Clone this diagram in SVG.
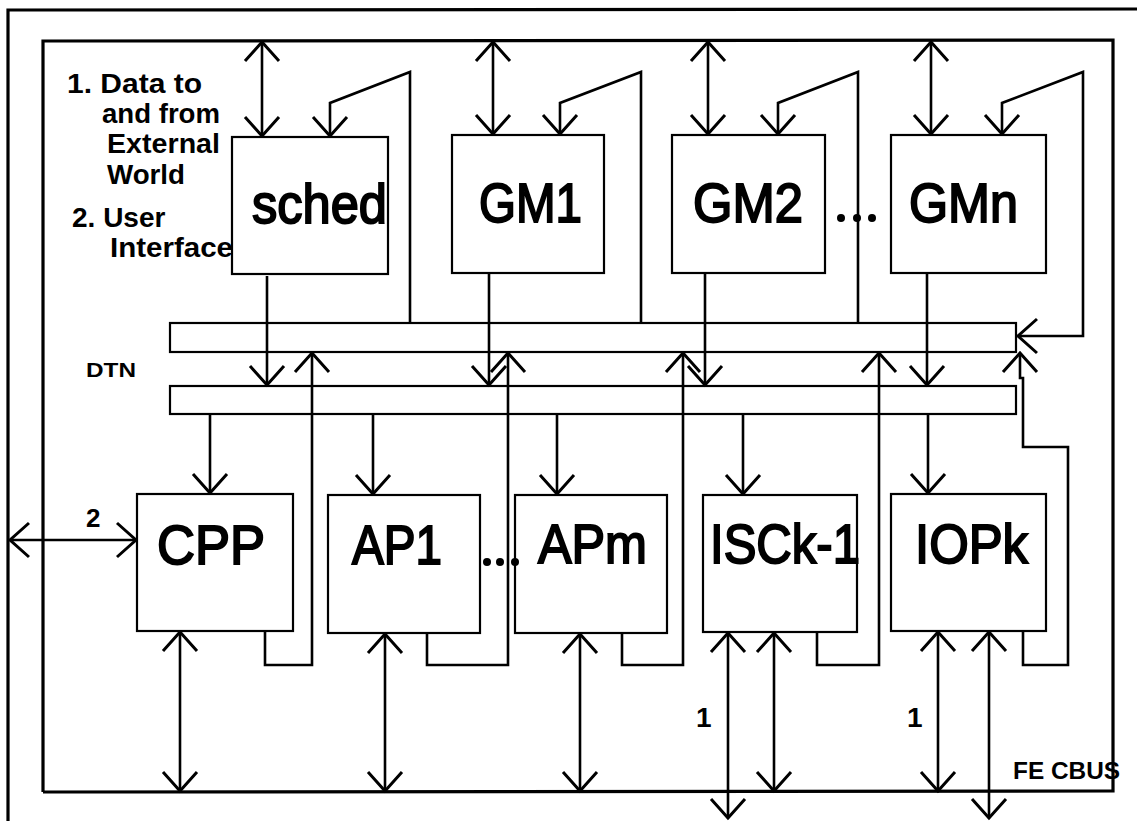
<svg xmlns="http://www.w3.org/2000/svg" width="1137" height="821" viewBox="0 0 1137 821">
<style>
.frame{fill:none;stroke:#000;stroke-width:3.2}
.box{fill:#fff;stroke:#000;stroke-width:2.2}
.bar{fill:none;stroke:#000;stroke-width:2.2}
.c{fill:none;stroke:#000;stroke-width:2.6;stroke-linejoin:miter}
.a{marker-end:url(#ah)}
.b{marker-start:url(#ah);marker-end:url(#ah)}
.big{font-family:"Liberation Sans",Arial,sans-serif;font-size:56px;fill:#000;stroke:#000;stroke-width:2}
.sm{font-family:"Liberation Sans",Arial,sans-serif;font-size:28px;font-weight:bold;fill:#000}
.dot{fill:#000}
</style>
<defs>
<marker id="ah" viewBox="-22 -20 24 40" refX="0" refY="0" markerWidth="24" markerHeight="40" markerUnits="userSpaceOnUse" orient="auto-start-reverse" overflow="visible">
<path d="M-19,-17 L0,0 L-19,17" fill="none" stroke="#000" stroke-width="3"/>
</marker>
</defs>
<rect width="1137" height="821" fill="#fff"/>
<g id="outer-frame">
<path class="frame" d="M8,821 L8,10 L1137,9"/>
</g>
<g id="fe-cbus">
<path class="frame" d="M43,792 L43,41 L1113,40 L1113,791 L43,792"/>
<text class="sm" x="1013" y="779" textLength="107" lengthAdjust="spacingAndGlyphs" style="font-size:24px">FE CBUS</text>
</g>
<g id="dtn">
<rect class="bar" x="170" y="323" width="846" height="29"/>
<rect class="bar" x="170" y="386" width="846" height="28"/>
<text class="sm" x="86" y="377" textLength="50" lengthAdjust="spacingAndGlyphs" style="font-size:20px">DTN</text>
</g>
<g id="legend">
<text class="sm" x="67" y="93" textLength="135" lengthAdjust="spacingAndGlyphs">1. Data to</text>
<text class="sm" x="102" y="123" textLength="118" lengthAdjust="spacingAndGlyphs">and from</text>
<text class="sm" x="107" y="153" textLength="113" lengthAdjust="spacingAndGlyphs">External</text>
<text class="sm" x="107" y="184" textLength="78" lengthAdjust="spacingAndGlyphs">World</text>
<text class="sm" x="72" y="227">2. User</text>
<text class="sm" x="110" y="257" textLength="123" lengthAdjust="spacingAndGlyphs">Interface</text>
</g>
<g id="connectors">
<line class="c b" x1="262" y1="42" x2="262" y2="136"/>
<line class="c b" x1="493" y1="42" x2="493" y2="134"/>
<line class="c b" x1="708" y1="42" x2="708" y2="134"/>
<line class="c b" x1="931" y1="42" x2="931" y2="134"/>
<path class="c a" d="M410,323 L410,72 L330,103 L330,136"/>
<path class="c a" d="M641,323 L641,72 L560,103 L560,134"/>
<path class="c a" d="M858,323 L858,72 L778,103 L778,134"/>
<path class="c b" d="M1018,336 L1083,336 L1083,72 L1002,103 L1002,134"/>
<line class="c a" x1="267" y1="276" x2="267" y2="385"/>
<line class="c a" x1="489" y1="274" x2="489" y2="385"/>
<line class="c a" x1="705" y1="274" x2="705" y2="385"/>
<line class="c a" x1="927" y1="274" x2="927" y2="385"/>
<line class="c a" x1="210" y1="415" x2="210" y2="493"/>
<line class="c a" x1="373" y1="415" x2="373" y2="494"/>
<line class="c a" x1="557" y1="415" x2="557" y2="494"/>
<line class="c a" x1="743" y1="415" x2="743" y2="494"/>
<line class="c a" x1="928" y1="415" x2="928" y2="493"/>
<path class="c a" d="M265,632 L265,665 L312,665 L312,353"/>
<path class="c a" d="M427,634 L427,665 L508,665 L508,353"/>
<path class="c a" d="M622,634 L622,665 L683,665 L683,353"/>
<path class="c a" d="M817,633 L817,665 L879,665 L879,353"/>
<path class="c a" d="M1023,632 L1023,665 L1068,665 L1068,447 L1023,447 L1023,378 L1020,378 L1020,353"/>
<line class="c b" x1="180" y1="632" x2="180" y2="791"/>
<line class="c b" x1="385" y1="634" x2="385" y2="791"/>
<line class="c b" x1="580" y1="634" x2="580" y2="791"/>
<line class="c b" x1="728" y1="633" x2="728" y2="818"/>
<line class="c b" x1="774" y1="633" x2="774" y2="791"/>
<line class="c b" x1="938" y1="632" x2="938" y2="791"/>
<line class="c b" x1="989" y1="632" x2="989" y2="818"/>
<line class="c b" x1="10" y1="540" x2="136" y2="540"/>
<text class="sm" x="86" y="527" style="font-size:26px">2</text>
<text class="sm" x="696" y="727">1</text>
<text class="sm" x="907" y="727">1</text>
</g>
<g id="sched">
<rect class="box" x="232" y="137" width="156" height="137"/>
<text class="big" x="252" y="223" textLength="135" lengthAdjust="spacingAndGlyphs">sched</text>
</g>
<g id="GM1">
<rect class="box" x="452" y="135" width="152" height="138"/>
<text class="big" x="479" y="222" textLength="103" lengthAdjust="spacingAndGlyphs">GM1</text>
</g>
<g id="GM2">
<rect class="box" x="672" y="135" width="153" height="138"/>
<text class="big" x="693" y="222" textLength="110" lengthAdjust="spacingAndGlyphs">GM2</text>
</g>
<g id="GMn">
<rect class="box" x="891" y="135" width="155" height="138"/>
<text class="big" x="909" y="222" textLength="109" lengthAdjust="spacingAndGlyphs">GMn</text>
</g>
<g id="CPP">
<rect class="box" x="137" y="494" width="156" height="137"/>
<text class="big" x="157" y="564" textLength="108" lengthAdjust="spacingAndGlyphs">CPP</text>
</g>
<g id="AP1">
<rect class="box" x="328" y="495" width="152" height="138"/>
<text class="big" x="352" y="564" textLength="90" lengthAdjust="spacingAndGlyphs">AP1</text>
</g>
<g id="APm">
<rect class="box" x="515" y="495" width="152" height="138"/>
<text class="big" x="538" y="563" textLength="109" lengthAdjust="spacingAndGlyphs">APm</text>
</g>
<g id="ISCk-1">
<rect class="box" x="703" y="495" width="154" height="137"/>
<text class="big" x="710" y="563" textLength="150" lengthAdjust="spacingAndGlyphs">ISCk-1</text>
</g>
<g id="IOPk">
<rect class="box" x="891" y="494" width="155" height="137"/>
<text class="big" x="915" y="563" textLength="113" lengthAdjust="spacingAndGlyphs">IOPk</text>
</g>
<g id="ellipses">
<circle class="dot" cx="841" cy="218" r="4"/>
<circle class="dot" cx="857" cy="218" r="4"/>
<circle class="dot" cx="872" cy="218" r="4"/>
<circle class="dot" cx="487" cy="562" r="4"/>
<circle class="dot" cx="500" cy="562" r="4"/>
<circle class="dot" cx="515" cy="562" r="4"/>
</g>
</svg>
